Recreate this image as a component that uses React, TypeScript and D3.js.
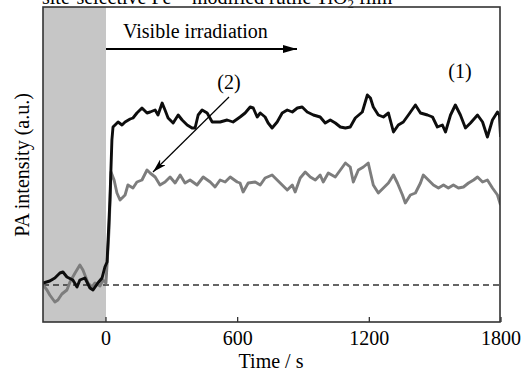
import React from "react";
import * as d3 from "d3";

// (time s, PA intensity a.u.) — curve (1), black
const series1: [number, number][] = [
  [-287, 0.2], [-256, 0.4], [-233, 0.7], [-210, 1.2], [-196, 1.3], [-178, 0.8], [-151, 0.5],
  [-132, -0.2], [-119, 0.5], [-96, 0.7], [-73, -0.3], [-59, -0.5], [-37, 0.2], [-18, 0.7],
  [-5, 1.8], [5, 2.3], [18, 8.5], [27, 14.5], [32, 15.8], [55, 16.3], [73, 16.0], [87, 16.3],
  [110, 16.6], [123, 16.7], [141, 17.2], [164, 17.7], [187, 17.2], [201, 17.3], [224, 17.5],
  [237, 17.0], [256, 18.2], [269, 17.5], [283, 16.7], [306, 16.2], [329, 17.0], [347, 16.5],
  [370, 16.0], [392, 15.7], [406, 15.7], [420, 17.0], [438, 17.5], [461, 17.2], [484, 16.3],
  [497, 16.3], [520, 16.3], [552, 16.5], [579, 16.3], [611, 16.8], [634, 17.2], [657, 17.8],
  [671, 17.7], [689, 16.8], [703, 17.2], [725, 16.8], [739, 16.2], [757, 15.7], [780, 16.3],
  [803, 17.2], [826, 17.5], [849, 17.3], [872, 17.7], [894, 17.8], [917, 17.3], [945, 17.0],
  [976, 16.8], [999, 16.2], [1022, 16.5], [1045, 16.2], [1068, 15.8], [1091, 15.7], [1113, 15.8],
  [1136, 16.7], [1168, 17.3], [1191, 19.0], [1205, 18.7], [1218, 17.8], [1241, 17.0], [1264, 16.8],
  [1287, 17.2], [1310, 15.3], [1332, 16.0], [1355, 16.3], [1378, 17.0], [1410, 18.0], [1433, 17.2],
  [1465, 17.0], [1488, 16.8], [1510, 15.8], [1533, 16.0], [1547, 15.3], [1570, 17.0], [1592, 18.0],
  [1615, 17.0], [1638, 15.7], [1661, 16.2], [1693, 17.0], [1716, 16.3], [1738, 14.8], [1761, 16.5],
  [1784, 17.3], [1793, 17.0], [1798, 14.8],
];

// curve (2), grey
const series2: [number, number][] = [
  [-287, 0.0], [-269, -0.5], [-256, -1.0], [-233, -1.7], [-219, -1.5], [-201, -0.9], [-178, -0.5],
  [-164, 0.3], [-141, 1.2], [-119, 2.0], [-105, 1.5], [-82, 0.2], [-64, -0.2], [-50, 0.2],
  [-27, -0.1], [-14, 0.5], [0, 0.2], [14, 5.5], [23, 11.3], [37, 10.5], [50, 9.2], [64, 8.5],
  [87, 9.0], [100, 10.0], [123, 9.7], [141, 10.3], [164, 10.5], [187, 11.5], [201, 11.2],
  [224, 10.8], [246, 10.0], [269, 10.3], [292, 10.8], [315, 10.2], [338, 11.0], [360, 10.2],
  [383, 10.5], [415, 10.0], [443, 10.8], [475, 10.3], [497, 9.8], [520, 10.5], [543, 10.3],
  [566, 10.8], [598, 10.3], [611, 10.2], [625, 9.3], [648, 10.2], [680, 10.3], [703, 10.0],
  [725, 10.7], [757, 11.0], [780, 10.5], [803, 10.0], [826, 9.5], [849, 10.0], [862, 9.3],
  [885, 10.7], [908, 11.3], [931, 10.8], [954, 10.5], [976, 11.0], [990, 10.3], [1013, 11.2],
  [1045, 10.8], [1068, 11.5], [1091, 12.2], [1113, 11.8], [1127, 10.3], [1150, 11.5], [1173, 11.8],
  [1195, 12.2], [1218, 10.0], [1241, 9.2], [1264, 9.7], [1287, 10.2], [1310, 11.0], [1328, 10.2],
  [1351, 9.0], [1364, 8.2], [1387, 9.0], [1410, 9.2], [1433, 10.2], [1446, 11.0], [1469, 10.5],
  [1492, 10.0], [1515, 9.7], [1538, 10.0], [1560, 9.7], [1583, 10.0], [1606, 9.7], [1629, 9.8],
  [1652, 10.2], [1675, 10.5], [1693, 10.8], [1716, 10.3], [1738, 10.5], [1761, 9.7], [1784, 9.0],
  [1798, 8.0],
];

const xTicks = [0, 600, 1200, 1800];
const darkStart = -287;
const irradiationStart = 0;
const baselineValue = 0;

const FONT = "'Liberation Serif', 'Times New Roman', serif";

export default function App() {
  const W = 528, H = 371;
  const left = 43, right = 500, top = 7, bottom = 322;
  const x = d3.scaleLinear().domain([-287, 1800]).range([43, 501]);
  const y = d3.scaleLinear().domain([-3.7, 27.8]).range([322, 7]);
  const line = d3.line<[number, number]>().x(d => x(d[0])).y(d => y(d[1]));

  return (
    <svg width={W} height={H} style={{ position: "absolute", left: 0, top: 0, background: "#fff" }}>
      <defs>
        <clipPath id="plot">
          <rect x={left} y={top} width={right - left} height={bottom - top} />
        </clipPath>
        <marker id="headBig" viewBox="0 0 14 8" refX="14" refY="4" markerWidth="14" markerHeight="8" markerUnits="userSpaceOnUse" orient="auto">
          <path d="M0,0 L14,4 L0,8 Z" fill="#000" />
        </marker>
        <marker id="headSmall" viewBox="0 0 14 8" refX="14" refY="4" markerWidth="14" markerHeight="8" markerUnits="userSpaceOnUse" orient="auto">
          <path d="M0,0 L14,4 L0,8 L4,4 Z" fill="#000" />
        </marker>
      </defs>
      {/* caption, cut off at the top edge as in the reference */}
      <text x={42} y={4} fontFamily={FONT} fontSize={20} fill="#000">
        site-selective Fe<tspan dy={-8} fontSize={13}>3+</tspan><tspan dy={8}>-modified rutile TiO</tspan><tspan dy={4} fontSize={13}>2</tspan><tspan dy={-4}> film</tspan>
      </text>
      <rect x={x(darkStart)} y={top} width={x(irradiationStart) - x(darkStart)} height={bottom - top} fill="#c6c6c6" />
      <line x1={left} x2={right} y1={y(baselineValue)} y2={y(baselineValue)} stroke="#333" strokeWidth={1.3} strokeDasharray="6,4" />
      <g clipPath="url(#plot)">
        <path d={line(series2) || ""} fill="none" stroke="#7d7d7d" strokeWidth={2.9} strokeLinejoin="round" />
        <path d={line(series1) || ""} fill="none" stroke="#0d0d0d" strokeWidth={2.9} strokeLinejoin="round" />
      </g>
      <rect x={left} y={top} width={right - left} height={bottom - top} fill="none" stroke="#333" strokeWidth={1.6} />
      {xTicks.map(t => (
        <g key={t}>
          <line x1={x(t)} x2={x(t)} y1={bottom} y2={bottom - 5} stroke="#333" strokeWidth={1.3} />
          <text x={x(t)} y={345} textAnchor="middle" fontFamily={FONT} fontSize={20} fill="#000">{t}</text>
        </g>
      ))}
      <text x={271} y={368} textAnchor="middle" fontFamily={FONT} fontSize={20} fill="#000">Time / s</text>
      <text transform="translate(29,165) rotate(-90)" textAnchor="middle" fontFamily={FONT} fontSize={20} fill="#000">PA intensity (a.u.)</text>
      <text x={123} y={38} fontFamily={FONT} fontSize={20} fill="#000">Visible irradiation</text>
      <line x1={106} x2={297} y1={49} y2={49} stroke="#000" strokeWidth={2} markerEnd="url(#headBig)" />
      <text x={229} y={89} textAnchor="middle" fontFamily={FONT} fontSize={20} fill="#000">(2)</text>
      <text x={460} y={78} textAnchor="middle" fontFamily={FONT} fontSize={20} fill="#000">(1)</text>
      <line x1={229} y1={97} x2={153} y2={172} stroke="#000" strokeWidth={1.2} markerEnd="url(#headSmall)" />
    </svg>
  );
}
